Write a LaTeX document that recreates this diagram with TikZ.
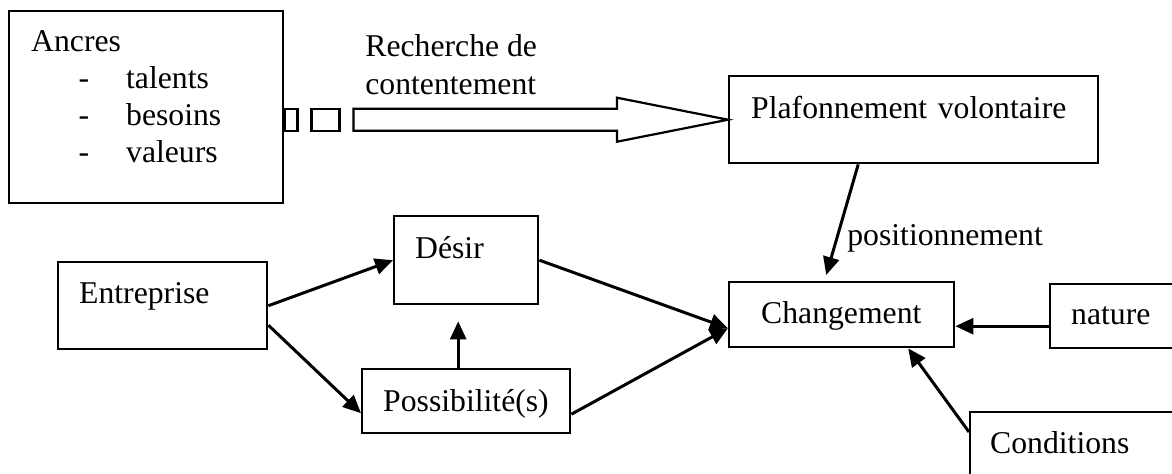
\documentclass[tikz,border=0pt]{standalone}
\usepackage{fontspec}
\setmainfont{Liberation Serif}
\usepackage{tikz}
\usetikzlibrary{positioning}
\usetikzlibrary{arrows.meta,calc}
\tikzset{
    textBox/.style={draw, line width=1.2pt, anchor=north west, align=left, inner ysep=0pt},
    boxSize/.style n args={4}{inner xsep=#1, text width=#2, text height=#3, text depth=#4}
}
\tikzset{
    arrowLine/.style={line width=1.5pt, -{Triangle[length=9pt,width=8pt]}},
    fatArrow/.style={line width=1.1pt},
    freeText/.style={inner sep=0pt, anchor=base west, align=left}
}

\begin{document}
\begin{tikzpicture}[x=0.5pt, y=-0.5pt, font=\fontsize{15.85}{18.6}\selectfont]
			\useasboundingbox (0,0) rectangle (1172,473);
			\node[textBox, boxSize={11pt}{115pt}{20pt}{76pt}] (ancres) at (8,10)
				{Ancres\\
				\hspace*{23.75pt}\makebox[23.75pt][l]{-}talents\\
				\hspace*{23.75pt}\makebox[23.75pt][l]{-}besoins\\
				\hspace*{23.75pt}\makebox[23.75pt][l]{-}valeurs};
			\node[freeText] (recherche) at (365,94) {Recherche de\\contentement};
			\node[textBox, boxSize={11pt}{162.5pt}{21pt}{22.5pt}] (plafond) at (728,75) {Plafonnement volontaire};
			\node[textBox, boxSize={16pt}{80.5pt}{20.5pt}{12pt}] (changement) at (728,281) {Changement};
			\node[textBox, boxSize={10.5pt}{54.5pt}{20pt}{12pt}] (nature) at (1049,283) {nature};
			\node[textBox, boxSize={10pt}{95.5pt}{20.5pt}{34pt}] (conditions) at (969,411) {Conditions};
			\node[textBox, boxSize={10.5pt}{51pt}{21pt}{23pt}] (desir) at (393,215) {Désir};
			\node[textBox, boxSize={10.5pt}{83pt}{21pt}{11pt}] (possib) at (361,368) {Possibilité(s)};
			\node[textBox, boxSize={10.5pt}{83.5pt}{20.5pt}{23pt}] (entreprise) at (57,261) {Entreprise};
			% striped arrow
			\coordinate (s) at (ancres.east |- plafond.west);
			\draw[fatArrow] (s) ++(0,-11) rectangle ++(13,22);
			\draw[fatArrow] (s) ++(27,-11) rectangle ++(28,22);
			\draw[fatArrow] ($(s)+(69,-11)$) -- ($(plafond.west)+(-111,-11)$) -- ++(0,-11) -- (plafond.west)
				-- ($(plafond.west)+(-111,22)$) -- ++(0,-11) -- ($(s)+(69,11)$) -- cycle;
			\draw[arrowLine] (entreprise.east) -- (desir.west);
			\draw[arrowLine] ([yshift=-9.75pt]entreprise.east) -- ([yshift=-6pt]possib.west);
			\draw[arrowLine] ([xshift=-4pt]possib.north) -- ([xshift=-4pt,yshift=-8pt]desir.south);
			\draw[arrowLine] (desir.east) -- ([yshift=-6.75pt]changement.west);
			\draw[arrowLine] ([yshift=-6.5pt]possib.east) -- ([yshift=-6.75pt]changement.west);
			\draw[arrowLine] ([xshift=-27.75pt]plafond.south) -- ([xshift=-7.75pt,yshift=3pt]changement.north)
				node[freeText, pos=0.73, xshift=5.5pt] (posit) {positionnement};
			\draw[arrowLine] ([yshift=-5pt]nature.west) -- ([yshift=-5pt]nature.west -| changement.east);
			\draw[arrowLine] ([yshift=-10.5pt]conditions.north west) -- ([xshift=33.25pt]changement.south);
		\end{tikzpicture}
\end{document}
